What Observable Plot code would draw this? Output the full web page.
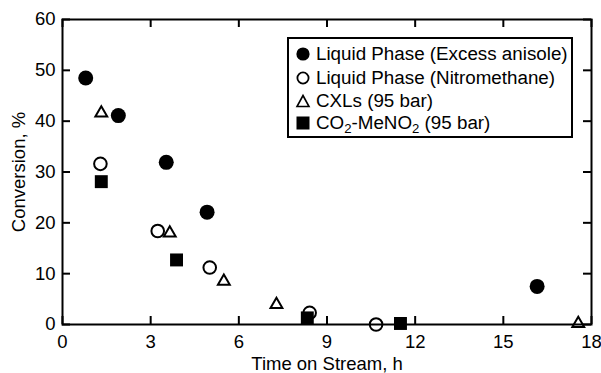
<!DOCTYPE html>
<html>
<head>
<meta charset="utf-8">
<script src="https://cdn.jsdelivr.net/npm/d3@7"></script>
<script src="https://cdn.jsdelivr.net/npm/@observablehq/plot@0.6"></script>
<style>
  body { margin: 0; background: #fff; }
  #wrap { position: relative; width: 601px; height: 373px; background: #fff; font-family: "Liberation Sans", Arial, Helvetica, sans-serif; }
  #overlay { position: absolute; left: 0; top: 0; pointer-events: none; }
  #legend {
    position: absolute; left: 287px; top: 37px; width: 282px; height: 97px;
    border: 2px solid #000; background: #fff; box-sizing: content-box;
    font-size: 18.8px; color: #000;
  }
  #legend .row { position: absolute; left: 6px; height: 22px; display: flex; align-items: center; white-space: nowrap; }
  #legend .row svg { margin-right: 5px; }
  #legend sub { font-size: 0.7em; vertical-align: -0.3em; line-height: 0; }
</style>
</head>
<body>
<div id="wrap">
  <div id="chart"></div>
  <div id="overlay"></div>
  <div id="legend"></div>
</div>
<script>
// ---- data ----
const seriesNames = [
  "Liquid Phase (Excess anisole)",
  "Liquid Phase (Nitromethane)",
  "CXLs (95 bar)",
  "CO2-MeNO2 (95 bar)"
];
const anisoleTime = [0.79, 1.9, 3.53, 4.92, 16.15];
const anisoleConv = [48.5, 41.1, 31.9, 22.1, 7.5];
const nitroTime = [1.29, 3.24, 5.01, 8.41, 10.67];
const nitroConv = [31.6, 18.4, 11.2, 2.3, 0.0];
const cxlTime = [1.32, 3.65, 5.49, 7.28, 17.55];
const cxlConv = [41.6, 18.0, 8.5, 3.9, 0.2];
const co2Time = [1.32, 3.88, 8.33, 11.5];
const co2Conv = [28.1, 12.7, 1.3, 0.2];
const xTicks = [0, 3, 6, 9, 12, 15, 18];
const yTicks = [0, 10, 20, 30, 40, 50, 60];

const toRows = (xs, ys) => xs.map((x, i) => ({x, y: ys[i]}));
const anisole = toRows(anisoleTime, anisoleConv);
const nitro = toRows(nitroTime, nitroConv);
const cxl = toRows(cxlTime, cxlConv);
const co2 = toRows(co2Time, co2Conv);

const FONT = "Liberation Sans, Arial, Helvetica, sans-serif";
const W = 601, H = 373, ML = 62, MR = 10, MT = 19, MB = 49;
const TICK = 8;
const innerW = W - ML - MR, innerH = H - MT - MB;

// main layer: labels, titles, data
const chart = Plot.plot({
  width: W,
  height: H,
  marginLeft: ML,
  marginRight: MR,
  marginTop: MT,
  marginBottom: MB,
  style: {fontFamily: FONT, fontSize: "18.5px", color: "#000"},
  x: {domain: [0, 18]},
  y: {domain: [0, 60]},
  marks: [
    Plot.axisX(xTicks, {anchor: "bottom", tickSize: 0, tickPadding: 10, label: null, fill: "#000"}),
    Plot.axisY(yTicks, {anchor: "left", tickSize: 0, tickPadding: 7, label: null, fill: "#000"}),
    Plot.text(["Time on Stream, h"], {frameAnchor: "bottom", dy: 40, lineAnchor: "middle", textAnchor: "middle", fill: "#000", fontSize: 18.5}),
    Plot.text(["Conversion, %"], {frameAnchor: "left", dx: -43.5, rotate: -90, lineAnchor: "middle", textAnchor: "middle", fill: "#000", fontSize: 18.5}),
    Plot.dot(anisole, {x: "x", y: "y", r: 7.5, fill: "#000", stroke: "none", symbol: "circle"}),
    Plot.dot(nitro, {x: "x", y: "y", r: 6.3, fill: "#fff", stroke: "#000", strokeWidth: 2, symbol: "circle"}),
    Plot.dot(cxl, {x: "x", y: "y", r: 4.4, fill: "#fff", stroke: "#000", strokeWidth: 2, symbol: "triangle"}),
    Plot.dot(co2, {x: "x", y: "y", r: 7.3, fill: "#000", stroke: "none", symbol: "square"})
  ]
});
document.getElementById("chart").appendChild(chart);

// overlay layer: frame and inward ticks on all four sides
const frameLayer = Plot.plot({
  width: W,
  height: H,
  marginLeft: ML,
  marginRight: MR,
  marginTop: MT,
  marginBottom: MB,
  x: {domain: [0, 18], axis: null},
  y: {domain: [0, 60], axis: null},
  marks: [
    Plot.ruleX(xTicks, {x: (d) => d, insetTop: innerH - TICK, stroke: "#000", strokeWidth: 2}),
    Plot.ruleX(xTicks, {x: (d) => d, insetBottom: innerH - TICK, stroke: "#000", strokeWidth: 2}),
    Plot.ruleY(yTicks, {y: (d) => d, insetRight: innerW - TICK, stroke: "#000", strokeWidth: 2}),
    Plot.ruleY(yTicks, {y: (d) => d, insetLeft: innerW - TICK, stroke: "#000", strokeWidth: 2}),
    Plot.frame({stroke: "#000", strokeWidth: 2})
  ]
});
frameLayer.style.background = "transparent";
document.getElementById("overlay").appendChild(frameLayer);

// ---- legend ----
const legendSymbols = [
  '<svg width="16" height="16"><circle cx="8" cy="8" r="6.6" fill="#000"/></svg>',
  '<svg width="16" height="16"><circle cx="8" cy="8" r="5.6" fill="#fff" stroke="#000" stroke-width="1.8"/></svg>',
  '<svg width="16" height="16"><path d="M8,2.5 L14,13.5 L2,13.5 Z" fill="#fff" stroke="#000" stroke-width="1.6" stroke-linejoin="miter"/></svg>',
  '<svg width="16" height="16"><rect x="1.5" y="1.5" width="13" height="13" fill="#000"/></svg>'
];
const legendLabels = [seriesNames[0], seriesNames[1], seriesNames[2], "CO<sub>2</sub>-MeNO<sub>2</sub> (95 bar)"];
const legendTops = [4, 28, 51, 73];
const legend = document.getElementById("legend");
legendLabels.forEach((lab, i) => {
  const row = document.createElement("div");
  row.className = "row";
  row.style.top = legendTops[i] + "px";
  row.innerHTML = legendSymbols[i] + "<span>" + lab + "</span>";
  legend.appendChild(row);
});
</script>
</body>
</html>
